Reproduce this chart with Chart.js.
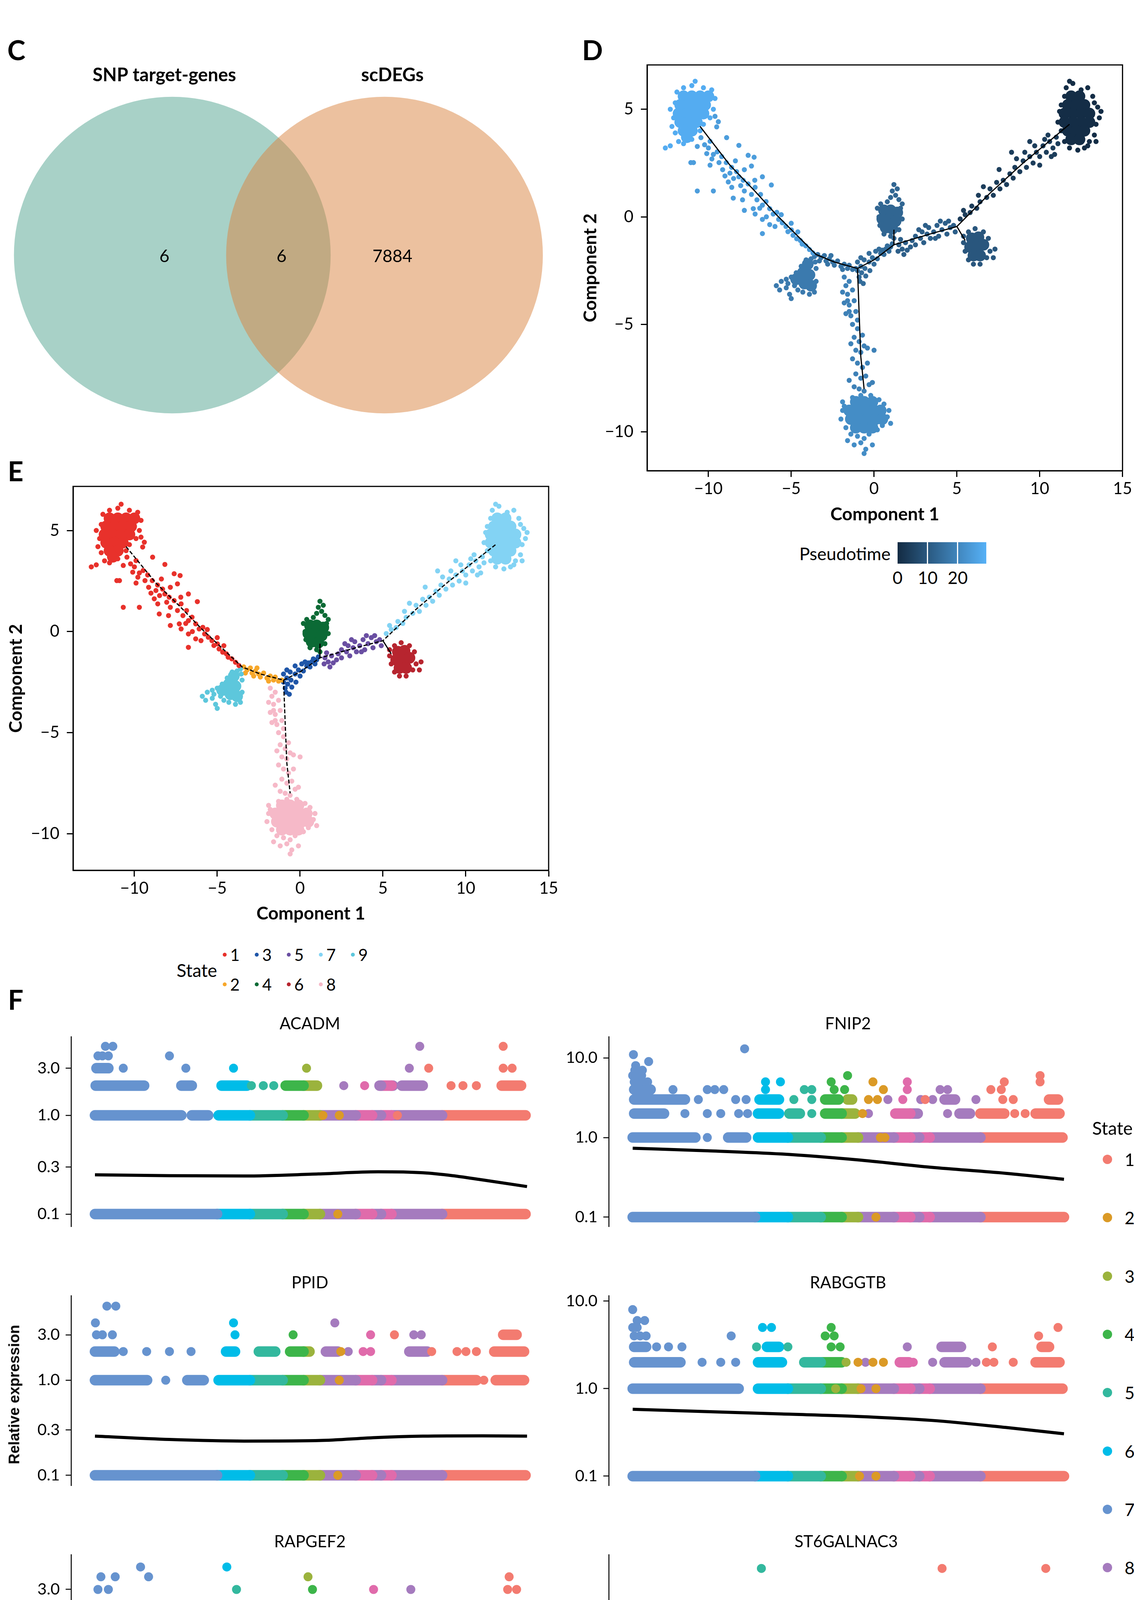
<!DOCTYPE html>
<html>
<head>
<meta charset="utf-8">
<title>Trajectory figure</title>
<script src="https://cdn.jsdelivr.net/npm/chart.js@4.4.1/dist/chart.umd.min.js"></script>
<style>
  html, body { margin: 0; padding: 0; background: #fff; }
  body { position: relative; width: 2902px; height: 4622px; overflow: hidden; font-family: Lato, "Noto Sans", sans-serif; color: #000; }
  .panel { position: absolute; }
  .txt { position: absolute; white-space: nowrap; line-height: 1.2; }
  .mid { transform: translate(-50%, -50%); }
  .lft { transform: translate(0, -50%); }
  .rgt { transform: translate(-100%, -50%); }
  .letter { font-size: 70px; font-weight: bold; }
  .dot { position: absolute; border-radius: 50%; transform: translate(-50%, -50%); }
</style>
</head>
<body>

<div class="txt letter mid" style="left:42px;top:127px">C</div>
<div class="txt letter mid" style="left:1516px;top:127px">D</div>
<div class="txt letter mid" style="left:40px;top:1205px">E</div>
<div class="txt letter mid" style="left:40px;top:2558px">F</div>

<div class="panel" style="left:0;top:0;width:1450px;height:1100px"><canvas id="venn"></canvas></div>
<div class="panel" style="left:1480px;top:122px;width:1422px;height:1227px"><canvas id="pseudo"></canvas></div>
<div class="panel" style="left:10px;top:1201px;width:1424px;height:1170px"><canvas id="state"></canvas></div>

<div class="panel" style="left:60px;top:2590px;width:1374px;height:590px"><canvas id="g1"></canvas></div>
<div class="panel" style="left:1436px;top:2590px;width:1366px;height:590px"><canvas id="g2"></canvas></div>
<div class="panel" style="left:60px;top:3253px;width:1374px;height:590px"><canvas id="g3"></canvas></div>
<div class="panel" style="left:1436px;top:3253px;width:1366px;height:590px"><canvas id="g4"></canvas></div>
<div class="panel" style="left:60px;top:3916px;width:1374px;height:716px"><canvas id="g5"></canvas></div>
<div class="panel" style="left:1436px;top:3916px;width:1366px;height:716px"><canvas id="g6"></canvas></div>

<div class="txt mid" style="left:37px;top:3570px;transform:translate(-50%,-50%) rotate(-90deg);font-family:'Liberation Sans',Arial,sans-serif;font-weight:bold;font-size:38px">Relative expression</div>

<div id="legends"></div>

<script>
// ---------- C: Venn ----------
const vennNames = ['SNP target-genes', 'scDEGs'];
const vennCounts = [6, 6, 7884];   // left only, shared, right only

// ---------- D / E: cells in component space, by state ----------
const s1Core = [[-11.5,5.6],[-11.0,5.6],[-10.5,5.6],[-10.0,5.6],[-11.7,5.2],[-11.2,5.2],[-10.7,5.2],[-10.2,5.2],
  [-11.8,4.8],[-11.3,4.8],[-10.8,4.8],[-10.3,4.8],[-11.7,4.4],[-11.2,4.4],[-10.7,4.4],[-11.5,4.0],[-11.0,4.0],[-11.3,3.7]];
const s1Edge = [[-12.1,4.6],[-12.2,4.2],[-12.0,3.9],[-11.8,3.5],[-11.5,3.4],[-11.0,3.6],[-10.5,4.0],[-10.3,4.3],
  [-9.7,5.0],[-9.6,5.5],[-9.8,5.9],[-10.3,6.0],[-11.0,6.1],[-10.8,6.3],[-11.5,6.0],[-11.9,5.8],[-12.0,5.3],
  [-12.3,5.0],[-12.6,3.2],[-12.3,3.3],[-9.9,4.6],[-10.0,5.2]];
const s1Tail = [[-9.6,4.67],[-9.4,4.42],[-9.5,4.18],[-8.9,3.68],[-8.16,3.32],[-7.6,2.86],[-7.24,2.77],[-7.4,2.36],
  [-10.67,3.27],[-10.9,2.52],[-11.06,2.52],[-10.67,1.2],[-9.7,1.2],[-8.5,0.87],[-6.74,1.86],[-6.2,1.48],
  [-7.83,0.3],[-7.18,0.13],[-6.74,-0.78],[-10.45,3.68],[-10.23,3.35],[-9.9,3.51],[-10.1,2.94],[-9.79,2.69],
  [-9.47,3.02],[-9.36,2.52],[-9.14,2.19],[-8.92,2.52],[-8.7,2.03],[-8.48,1.78],[-8.8,1.62],[-8.16,1.86],
  [-8.05,1.45],[-7.83,1.2],[-7.6,1.53],[-7.4,1.04],[-7.18,1.37],[-7.07,0.79],[-6.85,1.04],[-6.74,0.54],
  [-6.52,0.71],[-6.3,0.38],[-6.09,0.13],[-5.87,0.21],[-5.76,-0.12],[-5.54,-0.28],[-5.32,-0.45],[-5.2,-0.69],
  [-4.99,-0.61],[-4.89,-0.86],[-4.67,-1.02],[-4.45,-1.1],[-4.34,-1.27],[-4.12,-1.35],[-3.9,-1.52],[-3.69,-1.68],
  [-8.37,2.6],[-7.83,2.19],[-8.59,1.37],[-6.74,-0.12],[-5.98,-0.45],[-6.3,-0.36],[-7.29,0.38],[-7.94,0.79],
  [-10.0,3.2],[-9.7,2.9],[-9.9,2.4],[-9.2,2.8],[-8.6,2.3],[-8.3,2.1],[-9.0,1.9],[-7.9,1.7],[-7.2,1.7],
  [-6.9,0.4],[-6.5,0.0],[-5.6,0.1],[-5.0,-0.3],[-4.6,-0.7]];
const s2Pts = [[-3.4,-1.75],[-3.2,-1.9],[-3.0,-1.8],[-2.9,-2.05],[-2.7,-1.95],[-2.5,-2.1],[-2.4,-2.25],[-2.2,-2.05],
  [-2.0,-2.3],[-1.8,-2.2],[-1.6,-2.4],[-1.5,-2.25],[-1.3,-2.45],[-1.1,-2.4],[-2.8,-2.2],[-1.9,-2.45],[-2.6,-1.8],[-3.3,-2.05]];
const s3Pts = [[-1.0,-2.1],[-1.0,-2.5],[-0.9,-2.8],[-0.8,-1.9],[-0.8,-2.3],[-0.75,-2.6],[-0.6,-2.0],[-0.55,-2.4],
  [-0.5,-2.75],[-0.3,-1.7],[-0.3,-2.1],[-0.25,-2.5],[-0.1,-1.9],[0.0,-2.2],[0.1,-1.6],[0.2,-1.95],[0.4,-1.7],
  [0.5,-1.55],[0.7,-1.5],[0.8,-1.35],[1.0,-1.4],[1.1,-1.25],[-0.85,-3.0],[0.3,-1.5],[-0.65,-3.1],[0.6,-1.75],[0.9,-1.6]];
const s4Core = [[0.6,0.3],[1.0,0.3],[1.4,0.2],[0.5,-0.1],[0.9,-0.1],[1.3,-0.2],[0.7,-0.5],[1.1,-0.55]];
const s4Pts = [[0.2,0.4],[0.3,0.0],[0.35,-0.4],[0.6,-0.8],[1.0,-0.9],[1.2,-1.0],[1.5,-0.6],[1.7,-0.1],[1.6,0.4],
  [1.5,0.8],[1.3,1.0],[1.1,1.2],[1.2,1.5],[1.0,0.9],[0.8,0.7],[1.7,0.6],[1.4,1.3],[0.4,0.6]];
const s5Pts = [[1.5,-1.3],[1.7,-1.5],[1.9,-1.2],[1.6,-1.05],[2.0,-1.55],[1.8,-1.75],[1.45,-1.6],[2.3,-1.1],[2.5,-0.9],
  [2.5,-1.3],[2.8,-1.0],[2.9,-0.7],[3.0,-1.2],[3.2,-0.8],[3.3,-0.5],[3.4,-1.0],[3.6,-0.7],[3.8,-0.4],[3.9,-0.9],
  [4.1,-0.6],[4.3,-0.3],[4.4,-0.8],[4.6,-0.5],[4.8,-0.4],[4.9,-0.7],[2.2,-1.4],[3.1,-0.4],[4.0,-0.2],[2.7,-0.6],
  [3.7,-1.0],[4.5,-0.2]];
const s6Core = [[5.9,-1.0],[6.3,-0.95],[5.8,-1.4],[6.2,-1.4],[6.6,-1.3],[6.0,-1.8],[6.4,-1.8]];
const s6Pts = [[5.4,-1.2],[5.5,-1.6],[5.7,-2.0],[6.0,-2.2],[6.4,-2.2],[6.8,-1.9],[7.0,-1.6],[7.3,-1.5],[7.2,-1.9],
  [6.9,-1.0],[6.6,-0.7],[6.1,-0.55],[5.7,-0.7],[5.4,-0.9]];
const s7Core = [[11.9,5.6],[12.4,5.6],[11.7,5.2],[12.2,5.2],[12.7,5.2],[11.5,4.8],[12.0,4.8],[12.5,4.8],[13.0,4.8],
  [11.5,4.4],[12.0,4.4],[12.5,4.4],[13.0,4.4],[11.7,4.0],[12.2,4.0],[12.7,4.0],[11.9,3.6],[12.4,3.6]];
const s7Pts = [[11.2,4.9],[11.1,4.4],[11.3,4.0],[11.5,3.5],[11.8,3.2],[12.3,3.1],[12.7,3.2],[13.0,3.5],[13.3,3.8],
  [13.4,4.3],[13.6,4.6],[13.7,4.9],[13.3,5.3],[13.2,5.6],[12.9,6.0],[12.5,5.9],[12.0,6.2],[11.8,6.3],[11.6,6.0],
  [11.5,5.6],[11.3,5.2],[13.5,5.1],[12.9,3.3],[13.4,3.5]];
const s7Tail = [[5.2,-0.1],[5.5,0.1],[5.4,0.3],[5.8,0.2],[5.9,0.5],[6.2,0.4],[6.4,0.7],[6.3,1.0],[6.8,0.9],[7.0,1.3],
  [7.2,1.0],[7.4,1.6],[7.6,1.3],[7.8,1.7],[8.0,1.5],[8.2,2.0],[8.4,1.8],[8.5,2.3],[8.8,2.1],[9.0,2.6],[9.2,2.3],
  [9.4,2.8],[9.6,2.5],[9.8,3.0],[10.0,2.8],[10.2,3.3],[10.4,3.0],[10.6,3.5],[10.8,3.2],[11.0,3.7],[11.1,3.4],
  [7.55,2.2],[8.3,3.0],[9.4,3.5],[10.5,3.8],[9.1,3.0],[9.7,3.3],[10.3,3.6],[10.9,2.9],[8.6,2.7],[6.6,1.4],[10.0,2.4],[10.7,2.8]];
const s8Tail = [[-1.8,-2.8],[-1.7,-3.2],[-1.5,-3.0],[-1.9,-3.5],[-1.6,-3.6],[-1.3,-3.4],[-1.8,-4.0],[-1.5,-4.1],
  [-1.2,-3.9],[-1.7,-4.5],[-1.4,-4.6],[-1.1,-4.4],[-1.3,-5.0],[-1.0,-5.2],[-1.2,-5.6],[-0.9,-5.8],[-1.4,-5.9],
  [-1.1,-6.2],[-0.8,-6.3],[-0.6,-6.0],[-0.4,-6.1],[-1.3,-6.6],[-1.0,-6.8],[-0.7,-7.0],[-0.4,-6.8],[-1.1,-7.3],
  [-0.8,-7.5],[-0.5,-7.4],[-1.2,-7.9],[-0.9,-8.0],[-0.6,-8.1],[-0.3,-7.8],[-0.1,-7.7],[-1.5,-7.6],[0.0,-6.2],
  [-1.6,-3.9],[-1.5,-4.4],[-1.0,-4.8],[-0.7,-5.5]];
const s8Core = [[-1.1,-8.6],[-0.6,-8.6],[-0.1,-8.6],[-1.5,-9.0],[-1.0,-9.0],[-0.5,-9.0],[0.0,-9.0],[0.4,-9.0],
  [-1.4,-9.4],[-0.9,-9.4],[-0.4,-9.4],[0.1,-9.4],[-1.1,-9.8],[-0.6,-9.8],[-0.1,-9.8],[0.5,-9.4]];
const s8Pts = [[-1.9,-9.0],[-2.0,-9.4],[-1.8,-8.8],[-1.7,-9.8],[-1.4,-10.1],[-1.0,-10.2],[-0.6,-10.3],[-0.3,-10.1],
  [0.2,-9.9],[0.5,-9.7],[0.8,-9.3],[0.9,-9.0],[0.6,-8.7],[0.3,-8.5],[-0.2,-8.3],[-0.8,-8.3],[-1.3,-8.4],
  [-1.2,-10.6],[-0.8,-10.5],[-0.5,-10.8],[-1.6,-10.4],[-0.1,-10.6],[-0.6,-11.0],[1.0,-9.6],[-1.9,-8.6]];
const s9Core = [[-4.0,-2.2],[-4.3,-2.6],[-3.9,-2.7],[-4.7,-2.9],[-4.2,-3.1],[-3.8,-3.2]];
const s9Pts = [[-3.6,-1.85],[-3.8,-1.95],[-4.1,-2.0],[-4.4,-2.3],[-4.7,-2.6],[-5.0,-2.8],[-5.3,-2.9],[-5.6,-3.0],
  [-5.9,-3.2],[-5.7,-3.4],[-5.3,-3.3],[-5.1,-3.6],[-5.0,-3.8],[-4.6,-3.4],[-4.3,-3.5],[-3.9,-3.6],[-3.6,-3.5],
  [-3.5,-3.0],[-3.5,-2.4],[-3.55,-2.1],[-4.8,-3.2],[-5.2,-3.1]];

// [state, approx pseudotime, dense core, scattered cells]
const parts = [
  [7, 0.5, s7Core, s7Pts], [7, 4, [], s7Tail], [6, 9.5, s6Core, s6Pts], [5, 11.5, [], s5Pts],
  [4, 13, s4Core, s4Pts], [3, 14.5, [], s3Pts], [2, 16, [], s2Pts], [9, 17.5, s9Core, s9Pts],
  [8, 19, [], s8Tail], [8, 21.5, s8Core, s8Pts], [1, 25, [], s1Tail], [1, 28.5, s1Core, s1Edge]
];
const ptMax = 29.5;

const trajMain = [[-10.5,4.2],[-9.3,3.0],[-8.7,2.4],[-7.2,1.2],[-5.9,0.1],[-4.6,-0.9],[-3.5,-1.75],[-2.4,-2.1],
  [-1.0,-2.4],[0.0,-2.0],[1.2,-1.3],[2.5,-1.0],[3.6,-0.75],[5.0,-0.45],[7.0,1.1],[9.0,2.5],[11.8,4.3]];
const trajDown = [[-1.0,-2.4],[-0.9,-4.5],[-0.8,-6.5],[-0.6,-8.0]];
const trajStubs = [[[1.2,-1.3],[1.2,-0.6]], [[5.0,-0.45],[5.5,-1.1]]];

const compTicksX = [-10, -5, 0, 5, 10, 15];
const compTicksY = [-10, -5, 0, 5];
const legendTicks = [0, 10, 20];

// ---------- F: expression along pseudotime ----------
// pseudotime stretch covered by each state
const stateRanges = [[7,0,8.2],[6,8.2,10.4],[5,10.4,12.6],[4,12.6,14.0],[3,14.0,15.1],[8,15.1,17.5],
  [9,17.5,18.6],[8,18.6,19.2],[9,19.2,19.9],[8,19.9,23.3],[1,23.3,28.9]];
const timeTicks = [0, 10, 20, 30];

// dense rows: [level, from, to]; single cells: [time, level, state?]; fit: [time, value]
const acadmBands = [[0.1,0,28.9],[1,0,5.8],[1,6.5,7.6],[1,8.3,28.9],[2,0.05,3.3],[2,5.8,6.5],[2,8.5,10.2],
  [2,12.8,14.9],[2,19.1,20.0],[2,20.6,22.0],[2,27.3,28.6],[3,0.1,0.9]];
const acadmPts = [[10.5,2],[11.3,2],[12.0,2],[16.7,2],[18.1,2],[23.9,2],[24.7,2],[25.6,2],
  [1.9,3],[6.1,3],[9.3,3],[14.2,3],[21.1,3],[22.4,3,1],[27.4,3],[28.0,3],
  [0.2,4],[0.5,4],[0.9,4],[5.0,4],[0.7,5],[1.2,5],[21.8,5],[27.4,5],
  [16.4,1,2],[15.3,1,2],[20.3,1,1],[16.3,0.1,2]];
const acadmFit = [[0,0.25],[5,0.245],[10,0.243],[15,0.255],[19,0.268],[22,0.262],[24,0.245],[26,0.222],[29,0.19]];

const fnip2Bands = [[0.1,0,28.9],[1,0,4.2],[1,6.4,7.6],[1,8.4,28.8],[2,0.1,2.1],[2,8.4,9.8],[2,10.5,11.2],
  [2,12.9,14.9],[2,17.6,19.1],[2,21.9,22.6],[2,23.3,24.9],[2,27.0,28.6],[3,0.1,3.5],[3,8.5,9.8],[3,12.9,13.8],
  [3,14.4,14.7],[3,20.9,21.6],[3,27.9,28.5],[4,0.1,1.2]];
const fnip2Pts = [[5.0,1],[16.9,1,2],[16.6,1,2],
  [3.5,2],[5.0,2],[5.9,2],[7.1,2],[7.7,2],[12.0,2,5],[15.4,2,2],[15.8,2,8],[21.1,2],[25.6,2],[26.3,2],
  [4.4,3],[6.9,3],[7.6,3],[10.8,3],[12.0,3,5],[15.8,3,2],[16.4,3,2],[17.1,3],[18.1,3],[19.3,3,8],[19.6,3,1],
  [20.1,3,8],[23.0,3],[24.8,3],[25.5,3],
  [2.7,4],[5.0,4],[5.5,4],[6.1,4],[8.9,4],[11.5,4],[12.0,4,5],[13.5,4],[14.2,4,4],[16.8,4,2],[18.4,4],
  [20.6,4],[21.1,4],[24.0,4],[24.7,4],
  [0.1,5],[0.5,5],[1.0,5],[8.9,5],[9.9,5],[13.3,5],[16.1,5,2],[18.4,5],[24.9,5],[27.3,5],
  [0.0,6],[0.3,6],[0.6,6],[14.4,6,4],[27.3,6],[0.14,7],[0.65,7],[0.2,8],[0.05,11],[1.07,9],[7.5,13],
  [16.3,0.1,2]];
const fnip2Fit = [[0,0.733],[5,0.682],[10,0.62],[15,0.525],[20,0.423],[25,0.355],[28.9,0.299]];

const ppidBands = [[0.1,0,28.9],[1,0,3.5],[1,6.2,7.3],[1,8.3,25.6],[1,26.9,28.8],[2,0,1.3],[2,8.8,9.4],
  [2,11.0,12.1],[2,13.1,14.4],[2,15.5,16.3],[2,21.1,22.3],[2,26.8,28.8],[3,27.4,28.3]];
const ppidPts = [[4.75,1],[26.1,1],[16.4,1,2],
  [1.9,2],[3.47,2],[5.0,2],[6.45,2],[17.0,2],[18.0,2],[18.5,2],[24.3,2],[24.9,2],[25.6,2],[16.5,2,2],[22.6,2,1],
  [0.1,3],[0.5,3],[1.17,3],[9.4,3],[13.3,3],[18.5,3],[20.1,3,1],[21.4,3],[21.9,3],
  [0.03,4],[9.3,4],[16.1,4],[0.8,6],[1.4,6],[16.3,0.1,2]];
const ppidFit = [[0,0.258],[5,0.238],[10,0.229],[15,0.232],[19,0.25],[22,0.258],[26,0.26],[29,0.258]];

const rabggtbBands = [[0.1,0,28.9],[1,0,7.1],[1,8.4,28.8],[2,0.1,3.2],[2,8.4,10.0],[2,11.5,14.0],[2,17.9,18.5],
  [2,20.9,22.4],[2,27.0,28.6],[3,0.1,0.9],[3,9.0,9.8],[3,20.7,22.0],[3,27.4,27.9]];
const rabggtbPts = [[4.65,2],[5.9,2],[6.9,2],[14.3,2,3],[15.1,2,2],[15.6,2,8],[16.1,2,2],[16.8,2,2],[18.8,2,9],
  [20.1,2],[23.0,2],[23.7,2],[24.2,2],[25.5,2],
  [1.6,3],[2.4,3],[3.3,3],[8.3,3,5],[10.4,3,5],[13.3,3],[13.9,3],[18.4,3,8],[24.1,3],
  [0.1,4],[0.5,4],[0.9,4],[6.6,4],[12.9,4],[13.5,4],[27.2,4],
  [0.0,5],[0.3,5],[8.7,5],[9.3,5],[13.3,5],[28.5,5],[0.3,6],[0.8,6],[0.0,8],
  [13.6,1,3],[15.3,1,2],[16.3,1,2],[16.3,0.1,2],[15.2,0.1,2]];
const rabggtbFit = [[0,0.581],[5,0.546],[10,0.513],[15,0.482],[20,0.434],[25,0.36],[28.9,0.305]];

const rapgef2Bands = [[0.1,0,28.9],[1,0,2.8],[1,8.4,28.9],[2,0.1,0.8],[2,21.1,22.0],[2,27.3,28.4]];
const rapgef2Pts = [[6.2,1],[15.6,1,2],[17.0,1,2],
  [3.6,2],[6.2,2],[8.5,2,5],[13.4,2],[13.9,2],[16.6,2,2],[18.6,2,9],[19.0,2,9],[19.3,2,9],[20.3,2],
  [0.2,3],[0.9,3],[9.5,3,5],[14.6,3,4],[18.7,3,9],[21.2,3],[27.7,3],[28.3,3],
  [0.4,4],[1.36,4],[3.6,4],[14.3,4,3],[27.8,4],[3.06,5],[8.85,5],[16.3,0.1,2]];
const rapgef2Fit = [[0,0.125],[5,0.127],[10,0.129],[15,0.131],[18,0.134],[20,0.138],[22,0.145],[24,0.154],
  [26,0.167],[28,0.181],[29,0.192]];

const st6Bands = [[0.1,0,28.9]];
const st6Pts = [[0.06,10],[8.5,10],[8.9,10],[9.3,10],[16.4,10],[18.6,10,9],[19.8,10,9],[20.7,10,8],[21.2,10,8],
  [22.0,10],[22.5,10,1],[25.1,10],[27.3,10],[27.6,10],[28.4,10],[8.7,40,5],[20.9,40,1],[27.9,40],[16.3,0.1,2]];
const st6Fit = [[0,0.1],[28.9,0.1]];

// [title, rows, cells, fit, y ticks, y min, y max]
const genes = [
  ['ACADM', acadmBands, acadmPts, acadmFit, [0.1, 0.3, 1, 3], 0.0745, 6.24],
  ['FNIP2', fnip2Bands, fnip2Pts, fnip2Fit, [0.1, 1, 10], 0.0758, 18.4],
  ['PPID', ppidBands, ppidPts, ppidFit, [0.1, 0.3, 1, 3], 0.0778, 7.71],
  ['RABGGTB', rabggtbBands, rabggtbPts, rabggtbFit, [0.1, 1, 10], 0.0778, 11.5],
  ['RAPGEF2', rapgef2Bands, rapgef2Pts, rapgef2Fit, [0.1, 0.3, 1, 3], 0.0787, 6.6],
  ['ST6GALNAC3', st6Bands, st6Pts, st6Fit, [0.1, 1, 10], 0.069, 64.6]
];

// ---------- styles ----------
const colE = {1:'#E8312B', 2:'#F7A72A', 3:'#1F56A8', 4:'#0B6A35', 5:'#6A4FA2', 6:'#B7252F', 7:'#83D3F4', 8:'#F6B9C8', 9:'#5DC7DC'};
const colF = {1:'#F37B70', 2:'#DB9A26', 3:'#9BB33D', 4:'#3DB54A', 5:'#33B89E', 6:'#00BCE8', 7:'#6693CF', 8:'#A57BBE', 9:'#E06BAB'};

Chart.defaults.font.family = 'Lato';
Chart.defaults.color = '#000';

function ptColor(t) {
  const f = Math.min(1, Math.max(0, t / ptMax));
  const lo = [19, 43, 67], hi = [86, 177, 247];
  const c = lo.map((v, i) => Math.round(v + (hi[i] - v) * f));
  return 'rgb(' + c.join(',') + ')';
}
const xy = arr => arr.map(p => ({x: p[0], y: p[1]}));
const minus = v => v < 0 ? '\u2212' + Math.abs(v) : String(v);

// ---------- C ----------
const vennGap = 1.34;
const unitRadius = ctx => {
  const s = ctx.chart.scales.x;
  return s.getPixelForValue(1) - s.getPixelForValue(0);
};
const vennText = {
  id: 'vennText',
  afterDatasetsDraw(chart) {
    const c = chart.ctx, sx = chart.scales.x, sy = chart.scales.y;
    c.save();
    c.fillStyle = '#000';
    c.textAlign = 'center';
    c.textBaseline = 'middle';
    c.font = 'bold 47px Lato';
    c.fillText(vennNames[0], sx.getPixelForValue(-0.05), sy.getPixelForValue(1.135));
    c.fillText(vennNames[1], sx.getPixelForValue(vennGap + 0.05), sy.getPixelForValue(1.135));
    c.font = '44px Lato';
    const cx = [-0.05, vennGap / 2 + 0.02, vennGap + 0.05];
    vennCounts.forEach((n, i) => c.fillText(String(n), sx.getPixelForValue(cx[i]), sy.getPixelForValue(-0.01)));
    c.restore();
  }
};
new Chart(document.getElementById('venn'), {
  type: 'scatter',
  data: { datasets: [
    { data: [{x: 0, y: 0}], backgroundColor: '#a8d1c7', borderWidth: 0, pointRadius: unitRadius, order: 1 },
    { data: [{x: vennGap, y: 0}], backgroundColor: 'rgba(217,131,63,0.5)', borderWidth: 0, pointRadius: unitRadius, order: 0 }
  ]},
  options: {
    responsive: true, maintainAspectRatio: false, animation: false, events: [],
    plugins: { legend: {display: false}, tooltip: {enabled: false} },
    scales: { x: {display: false, min: -1.088, max: 2.49}, y: {display: false, min: -1.103, max: 1.611} }
  },
  plugins: [vennText]
});

// ---------- D and E ----------
const boxBorder = {
  id: 'boxBorder',
  afterDraw(chart) {
    const a = chart.chartArea, c = chart.ctx;
    c.save();
    c.strokeStyle = '#000';
    c.lineWidth = 3;
    c.strokeRect(a.left, a.top, a.right - a.left, a.bottom - a.top);
    c.restore();
  }
};

function compAxis(title, ticksArr, min, max, isX, fit, pad) {
  return {
    type: 'linear', min: min, max: max,
    afterBuildTicks: s => { s.ticks = ticksArr.map(v => ({value: v})); },
    afterFit: s => { if (isX) s.height = fit; else s.width = fit; },
    ticks: { font: {size: 42}, color: '#000', padding: pad, autoSkip: false, maxRotation: 0, callback: v => minus(v) },
    grid: { display: true, drawOnChartArea: false, drawTicks: true, tickLength: 16, tickColor: '#000', tickWidth: 3 },
    border: { display: true, color: '#000', width: 3 },
    title: { display: true, text: title, font: {size: 46, weight: 'bold'}, color: '#000', padding: {top: 4, bottom: 4} }
  };
}

function cellSets(colorOf, dash) {
  const sets = [];
  sets.push({ data: xy(trajMain), showLine: true, borderColor: '#000', borderWidth: 3, borderDash: dash, pointRadius: 0, order: 0 });
  sets.push({ data: xy(trajDown), showLine: true, borderColor: '#000', borderWidth: 3, borderDash: dash, pointRadius: 0, order: 0 });
  trajStubs.forEach(s => sets.push({ data: xy(s), showLine: true, borderColor: '#000', borderWidth: 3, pointRadius: 0, order: 0 }));
  parts.forEach((p, i) => {
    const col = colorOf(p[0], p[1]);
    if (p[2].length) sets.push({ data: xy(p[2]), backgroundColor: col, borderWidth: 0, pointRadius: 15, order: 20 - i });
    sets.push({ data: xy(p[3]), backgroundColor: col, borderWidth: 0, pointRadius: 6.5, order: 20 - i });
  });
  return sets;
}

function compChart(id, colorOf, dash, yMin, yMax, yFit, xFit) {
  return new Chart(document.getElementById(id), {
    type: 'scatter',
    data: { datasets: cellSets(colorOf, dash) },
    options: {
      responsive: true, maintainAspectRatio: false, animation: false, events: [],
      layout: { padding: {top: 30, right: id === 'pseudo' ? 29 : 30, bottom: 0, left: 0} },
      plugins: { legend: {display: false}, tooltip: {enabled: false} },
      scales: {
        x: compAxis('Component 1', compTicksX, -13.7, 15, true, xFit, 5),
        y: compAxis('Component 2', compTicksY, yMin, yMax, false, yFit, 19)
      }
    },
    plugins: [boxBorder]
  });
}
compChart('pseudo', (s, t) => ptColor(t), [], -11.8, 7.06, 176, 144);
compChart('state', (s, t) => colE[s], [10, 5], -11.81, 7.18, 177, 143);

// ---------- F ----------
function stateAt(t) {
  for (const r of stateRanges) if (t >= r[1] && t < r[2]) return r[0];
  return t < 0 ? 7 : 1;
}

function exprChart(id, g, bottom, rightPad) {
  const [title, bands, pts, fit, yTicks, yMin, yMax] = g;
  const sets = [];
  sets.push({ data: xy(fit), showLine: true, borderColor: '#000', borderWidth: 8, pointRadius: 0,
    cubicInterpolationMode: 'monotone', order: 0 });
  const byState = {};
  pts.forEach(p => {
    const s = p.length > 2 ? p[2] : stateAt(p[0]);
    (byState[s] = byState[s] || []).push({x: p[0], y: p[1]});
  });
  Object.keys(byState).forEach(s => {
    sets.push({ data: byState[s], backgroundColor: colF[s], borderWidth: 0, pointRadius: 11.5, order: 1 });
  });
  bands.forEach(b => {
    stateRanges.forEach(r => {
      const a = Math.max(b[1], r[1]), e = Math.min(b[2], r[2]);
      if (e > a) {
        sets.push({ data: [{x: a, y: b[0]}, {x: e, y: b[0]}], showLine: true, borderColor: colF[r[0]],
          borderWidth: 27, borderCapStyle: 'round', pointRadius: 0, order: 2 });
      }
    });
  });
  return new Chart(document.getElementById(id), {
    type: 'scatter',
    data: { datasets: sets },
    options: {
      responsive: true, maintainAspectRatio: false, animation: false, events: [],
      layout: { padding: {top: 0, right: rightPad, bottom: bottom ? 0 : 30, left: 0} },
      plugins: {
        legend: {display: false}, tooltip: {enabled: false},
        title: { display: true, text: title, fullSize: false, color: '#000', font: {size: 42, weight: 'normal'},
          padding: {top: 6, bottom: 7.8} }
      },
      scales: {
        x: {
          type: 'linear', min: -1.6, max: 30.45, display: bottom,
          afterBuildTicks: s => { s.ticks = timeTicks.map(v => ({value: v})); },
          afterFit: s => { if (bottom) s.height = 153; },
          ticks: { font: {size: 41}, color: '#000', padding: 22, autoSkip: false, maxRotation: 0 },
          grid: { display: true, drawOnChartArea: false, tickLength: 11, tickColor: '#000', tickWidth: 2.5 },
          border: { display: true, color: '#000', width: 2.5 },
          title: { display: true, text: 'Pseudo-time', font: {size: 46, weight: 'bold'}, color: '#000', padding: {top: 4, bottom: 4} }
        },
        y: {
          type: 'logarithmic', min: yMin, max: yMax,
          afterBuildTicks: s => { s.ticks = yTicks.map(v => ({value: v})); },
          afterFit: s => { s.width = 122; },
          ticks: { font: {size: 41}, color: '#000', padding: 15, autoSkip: false, callback: v => Number(v).toFixed(1) },
          grid: { display: true, drawOnChartArea: false, tickLength: 14, tickColor: '#000', tickWidth: 2.5 },
          border: { display: true, color: '#000', width: 2.5 }
        }
      }
    }
  });
}
genes.forEach((g, i) => exprChart('g' + (i + 1), g, i >= 4, i % 2 === 0 ? 30 : 20));

// ---------- legends ----------
const leg = document.getElementById('legends');
function addText(text, x, y, cls, size, extra) {
  const d = document.createElement('div');
  d.className = 'txt ' + cls;
  d.style.left = x + 'px';
  d.style.top = y + 'px';
  d.style.fontSize = size + 'px';
  if (extra) d.style.cssText += extra;
  d.textContent = text;
  leg.appendChild(d);
}
function addDot(x, y, r, col) {
  const d = document.createElement('div');
  d.className = 'dot';
  d.style.cssText = 'left:' + x + 'px;top:' + y + 'px;width:' + (2 * r) + 'px;height:' + (2 * r) + 'px;background:' + col;
  leg.appendChild(d);
}

// D: pseudotime colour bar
addText('Pseudotime', 2279, 1417, 'rgt', 45);
const bar = document.createElement('div');
bar.style.cssText = 'position:absolute;left:2297px;top:1388px;width:227px;height:55px;background:linear-gradient(to right,#132B43,#56B1F7)';
leg.appendChild(bar);
legendTicks.forEach(v => {
  const x = 2297 + v / ptMax * 227;
  if (v > 0) {
    const t = document.createElement('div');
    t.style.cssText = 'position:absolute;left:' + (x - 1.5) + 'px;top:1388px;width:3px;height:55px;background:#fff';
    leg.appendChild(t);
  }
  addText(String(v), x, 1478, 'mid', 44);
});

// E: state legend, two rows
addText('State', 452, 2484, 'lft', 46);
for (let s = 1; s <= 9; s++) {
  const col = Math.floor((s - 1) / 2), row = (s - 1) % 2;
  const x = 575 + col * 82, y = 2444 + row * 76;
  addDot(x, y, 5, colE[s]);
  addText(String(s), x + 14, y, 'lft', 42);
}

// F: state legend, one column
addText('State', 2795, 2888, 'lft', 46);
for (let s = 1; s <= 9; s++) {
  const y = 2968 + (s - 1) * 149.3;
  addDot(2834, y, 12, colF[s]);
  addText(String(s), 2878, y, 'lft', 44);
}
</script>
</body>
</html>
